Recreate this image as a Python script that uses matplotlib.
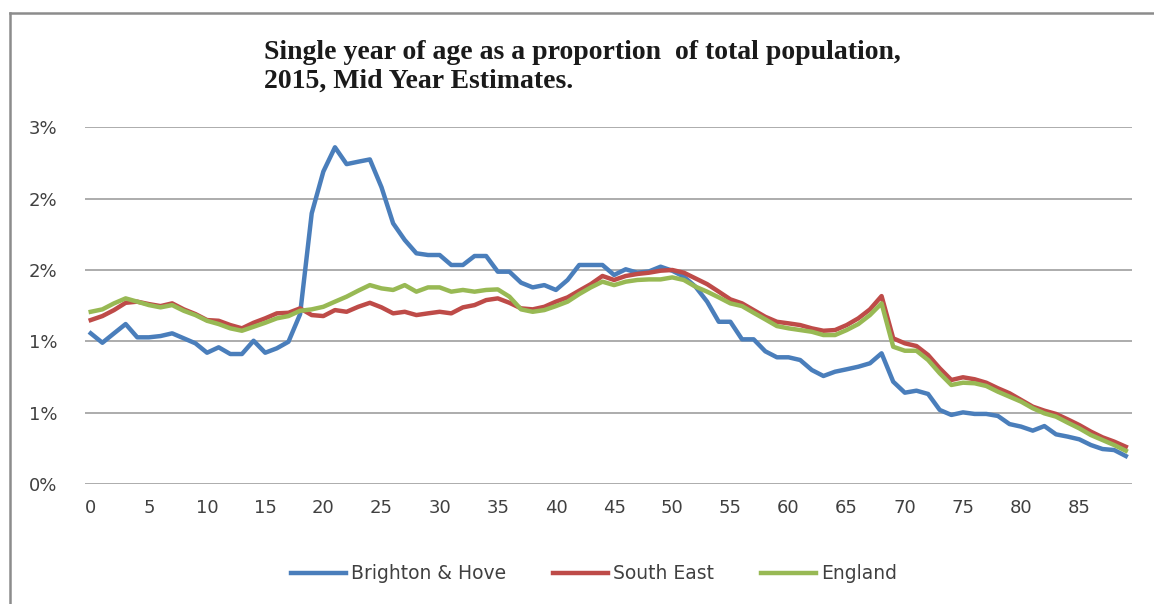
import matplotlib
matplotlib.use("Agg")
import matplotlib.pyplot as plt
from matplotlib.lines import Line2D

# Idades 0-89, proporção (%) de cada idade na população total
ages = list(range(90))
brighton = [1.056, 0.99, 1.056, 1.121, 1.028, 1.028, 1.037, 1.056, 1.021, 0.986,
            0.92, 0.958, 0.911, 0.911, 1.004, 0.92, 0.951, 0.997, 1.19, 1.897,
            2.19, 2.36, 2.242, 2.259, 2.275, 2.08, 1.827, 1.71, 1.617, 1.605,
            1.605, 1.535, 1.535, 1.598, 1.598, 1.488, 1.488, 1.411, 1.378, 1.394,
            1.36, 1.43, 1.535, 1.535, 1.535, 1.465, 1.505, 1.481, 1.49, 1.523,
            1.495, 1.453, 1.383, 1.278, 1.137, 1.137, 1.014, 1.014, 0.93, 0.888,
            0.888, 0.869, 0.799, 0.757, 0.787, 0.804, 0.822, 0.846, 0.916, 0.717,
            0.64, 0.654, 0.631, 0.519, 0.484, 0.502, 0.491, 0.491, 0.477, 0.42,
            0.402, 0.374, 0.406, 0.348, 0.332, 0.313, 0.273, 0.245, 0.238, 0.196]
south_east = [1.149, 1.177, 1.219, 1.27, 1.278, 1.261, 1.247, 1.266, 1.224, 1.191,
              1.149, 1.144, 1.114, 1.091, 1.13, 1.161, 1.196, 1.2, 1.231, 1.184,
              1.177, 1.219, 1.207, 1.242, 1.27, 1.238, 1.196, 1.207, 1.184, 1.196,
              1.207, 1.196, 1.238, 1.254, 1.289, 1.301, 1.27, 1.231, 1.224, 1.242,
              1.278, 1.308, 1.355, 1.401, 1.458, 1.43, 1.458, 1.472, 1.481, 1.495,
              1.5, 1.481, 1.441, 1.401, 1.348, 1.294, 1.266, 1.219, 1.172, 1.137,
              1.126, 1.114, 1.091, 1.074, 1.079, 1.114, 1.161, 1.224, 1.317, 1.021,
              0.986, 0.967, 0.904, 0.811, 0.729, 0.748, 0.734, 0.71, 0.671, 0.636,
              0.589, 0.542, 0.514, 0.491, 0.453, 0.413, 0.367, 0.327, 0.297, 0.261]
england = [1.207, 1.224, 1.266, 1.301, 1.278, 1.254, 1.238, 1.254, 1.214, 1.184,
           1.144, 1.121, 1.091, 1.074, 1.102, 1.13, 1.161, 1.177, 1.214, 1.224,
           1.242, 1.278, 1.313, 1.355, 1.394, 1.371, 1.36, 1.394, 1.348, 1.378,
           1.378, 1.348, 1.36, 1.348, 1.36, 1.364, 1.313, 1.224, 1.207, 1.219,
           1.247, 1.278, 1.331, 1.378, 1.418, 1.394, 1.418, 1.43, 1.434, 1.434,
           1.448, 1.43, 1.383, 1.348, 1.308, 1.266, 1.247, 1.2, 1.154, 1.107,
           1.091, 1.079, 1.067, 1.044, 1.044, 1.079, 1.121, 1.184, 1.266, 0.962,
           0.934, 0.934, 0.869, 0.776, 0.694, 0.71, 0.706, 0.687, 0.647, 0.612,
           0.577, 0.531, 0.495, 0.472, 0.43, 0.39, 0.343, 0.308, 0.273, 0.233]

y_ticks = [0, 0.5, 1.0, 1.5, 2.0, 2.5]
y_labels = ["0%", "1%", "1%", "2%", "2%", "3%"]
x_ticks = list(range(0, 90, 5))

fig = plt.figure(figsize=(11.54, 6.04), dpi=100)
ax = fig.add_axes([0.0736, 0.1987, 0.907, 0.5905])

ax.plot(ages, brighton, color="#4A7EBB", lw=3.2, label="Brighton & Hove", solid_joinstyle="round")
ax.plot(ages, south_east, color="#BE4B48", lw=3.2, label="South East", solid_joinstyle="round")
ax.plot(ages, england, color="#98B954", lw=3.2, label="England", solid_joinstyle="round")

ax.set_xlim(-0.5, 89.5)
ax.set_ylim(0, 2.5)
ax.set_yticks(y_ticks)
ax.set_yticklabels(y_labels)
ax.set_xticks(x_ticks)
ax.tick_params(length=0, labelsize=13, labelcolor="#404040")
ax.tick_params(axis="y", pad=20)
ax.tick_params(axis="x", pad=11)
ax.grid(axis="y", color="#A6A6A6", lw=1.3)
ax.set_axisbelow(True)
for s in ax.spines.values():
    s.set_visible(False)
ax.set_clip_on(False)

fig.text(0.229, 0.89, "Single year of age as a proportion  of total population,\n2015, Mid Year Estimates.",
         ha="left", va="center", fontsize=20, fontweight="bold", family="Liberation Serif",
         linespacing=1.2, color="#1a1a1a")

leg = fig.legend(loc="center", bbox_to_anchor=(0.515, 0.05), ncol=3, frameon=False,
                 fontsize=13.5, handlelength=2.9, handletextpad=0.3, columnspacing=2.5)
for t in leg.get_texts():
    t.set_color("#404040")

# moldura cinza (topo e esquerda)
fig.add_artist(Line2D([0.0087, 1.0], [0.979, 0.979], color="#8c8c8c", lw=1.8))
fig.add_artist(Line2D([0.0087, 0.0087], [0.0, 0.979], color="#8c8c8c", lw=1.8))

fig.savefig("out.png", dpi=100)
